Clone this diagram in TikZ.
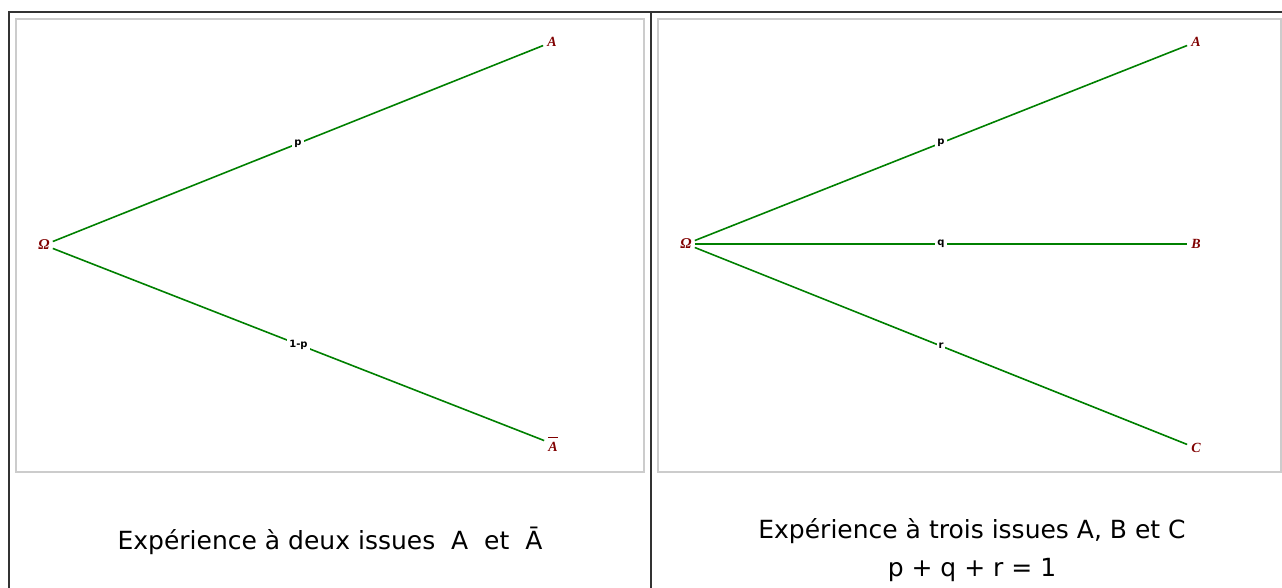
\documentclass[tikz,border=0pt]{standalone}
\usepackage{fontspec}
\setmainfont{DejaVu Sans}
\newfontfamily\lblfont{Liberation Serif}
\newfontfamily\edgefont{DejaVu Sans}
\definecolor{brgreen}{RGB}{0,128,0}
\definecolor{dred}{RGB}{128,0,0}
\tikzset{
  frame/.style={draw=black!20, line width=1.6pt},
  rule/.style={draw=black!80, line width=1.2pt},
  event/.style={text=dred, font=\lblfont\bfseries\itshape\fontsize{14}{16}\selectfont, inner sep=4pt},
  root/.style={text=dred, font=\lblfont\bfseries\itshape\fontsize{15}{17}\selectfont, inner sep=3pt},
  branch/.style={draw=brgreen, line width=1.6pt},
  prob/.style={font=\edgefont\bfseries\fontsize{10}{12}\selectfont, fill=white, inner sep=2pt},
  caption/.style={font=\fontsize{25}{38}\selectfont, align=center, inner sep=0pt}
}
\begin{document}
\begin{tikzpicture}[x=1pt,y=-1pt]
\useasboundingbox (0,0) rectangle (1282,588);
% table rules
\draw[rule] (9,588) -- (9,12) -- (1282,12);
\draw[rule] (651,12) -- (651,588);
% frames
\draw[frame] (16,19) rectangle (644,472);
\draw[frame] (658,19) rectangle (1281,472);
% left tree
\node[root] (O1) at (44,245) {Ω};
\node[event] (A1) at (552,42) {A};
\node[event] (Ab1) at (553,444) {$\overline{\mbox{\rule{0pt}{0.95em}\lblfont\bfseries\itshape A}}$};
\draw[branch] (O1) -- node[prob] (p1) {p} (A1);
\draw[branch] (O1) -- node[prob] (q1) {1-p} (Ab1);
% right tree
\node[root] (O2) at (686,244) {Ω};
\node[event] (A2) at (1196,42) {A};
\node[event] (B2) at (1196,244) {B};
\node[event] (C2) at (1196,448) {C};
\draw[branch] (O2) -- node[prob] (p2) {p} (A2);
\draw[branch] (O2) -- node[prob] (q2) {q} (B2);
\draw[branch] (O2) -- node[prob] (r2) {r} (C2);
% captions
\node[caption] (cap1) at (330,541) {Expérience à deux issues \ A \ et \ Ā};
\node[caption] (cap2) at (972,550) {Expérience à trois issues A, B et C\\ p + q + r = 1};
\end{tikzpicture}
\end{document}
